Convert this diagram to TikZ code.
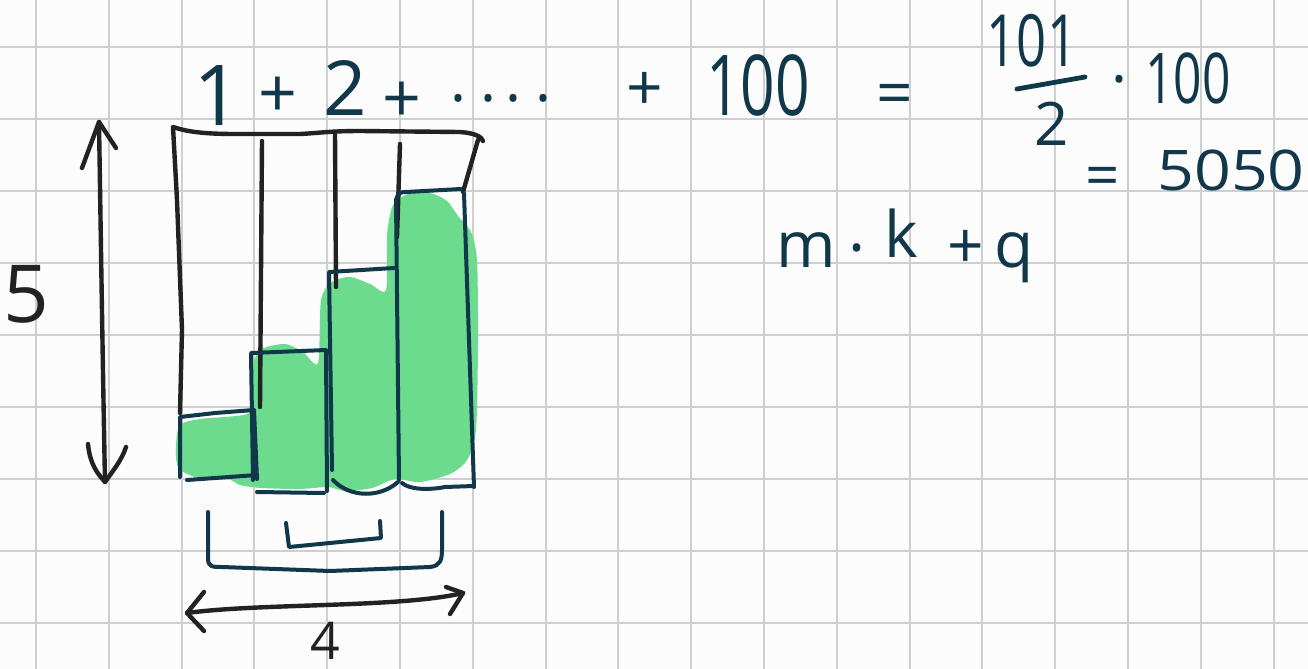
\documentclass[tikz,border=0pt]{standalone}
\usepackage{fontspec}
\setmainfont{Open Sans}
\usepackage{graphicx}
\definecolor{ink}{HTML}{10374A}
\definecolor{pen}{HTML}{222222}
\definecolor{hl}{HTML}{6CDB8E}
\definecolor{gridc}{HTML}{CFCFCF}
\newcommand\fsz[1]{\fontsize{#1}{#1}\selectfont}
\newcommand\hsq[2]{\scalebox{#1}[1]{#2}}
\begin{document}
\begin{tikzpicture}[x=0.5pt,y=-0.5pt,
  gridline/.style={gridc,line width=1pt},
  txt/.style={inner sep=0pt,text=ink,anchor=base},
  pentxt/.style={inner sep=0pt,text=pen,anchor=base},
  penline/.style={pen,line width=2.2pt,line cap=round,line join=round},
  inkline/.style={ink,line width=2pt,line cap=round,line join=round}]
\fill[white!98!gray] (0,0) rectangle (1308,669);
\useasboundingbox (0,0) rectangle (1308,669);
% grid
\foreach \k in {0,...,17} \draw[gridline] ({36+72.8*\k},0) -- ({36+72.8*\k},669);
\foreach \k in {0,...,8} \draw[gridline] (0,{47+72*\k}) -- (1308,{47+72*\k});
% green highlight
\fill[hl] plot[smooth cycle,tension=0.45] coordinates {
 (176,445) (180,425) (200,419) (235,416) (251,410) (253,365) (262,349) (285,344)
 (303,352) (318,363) (321,300) (332,282) (350,277) (370,284) (386,290) (387,235)
 (393,205) (408,194) (430,193) (447,201) (458,216) (471,232) (477,260) (478,340)
 (476,430) (467,460) (450,474) (420,482) (395,479) (372,488) (345,491) (328,487)
 (300,489) (262,488) (240,485) (226,478) (195,477) (178,467)};
% outer black frame
\draw[penline] (180,413) -- (182,330) -- (177,200) -- (173,127)
  .. controls (185,131) and (200,134) .. (235,134) -- (300,134)
  .. controls (320,133) and (330,131) .. (360,131) -- (460,132)
  .. controls (475,133) and (482,137) .. (483,141);
\draw[penline] (478,140) -- (463,192);
\coordinate (s1t) at (262,141); \coordinate (s1b) at (260,407);
\coordinate (s2t) at (335,133); \coordinate (s2b) at (336,287);
\coordinate (s3t) at (400,144); \coordinate (s3b) at (397,237);
\draw[penline] (s1t) -- (s1b);
\draw[penline] (s2t) -- (s2b);
\draw[penline] (s3t) -- (s3b);
% teal step boxes
\draw[inkline] (180,477) -- (180,417) -- (215,413) -- (254,410) -- (257,479);
\draw[inkline] (187,480) -- (257,475);
\draw[inkline] (253,480) -- (251,353) -- (326,350) -- (327,491);
\draw[inkline] (257,492) -- (324,493);
\draw[inkline] (332,470) -- (329,272) -- (394,268);
\draw[inkline] (333,480) .. controls (350,498) and (380,498) .. (398,482);
\draw[inkline] (399,480) -- (396,200) .. controls (398,193) and (400,192) .. (406,192) -- (461,189);
\draw[inkline] (464,193) -- (474,487);
\draw[inkline] (402,483) .. controls (410,490) and (430,490) .. (445,487) -- (474,486);
% vertical double arrow
\coordinate (vtop) at (99,122); \coordinate (vbot) at (105,482);
\draw[penline] (vtop) .. controls (101,250) and (103,380) .. (vbot);
\draw[penline] (82,168) -- (vtop) -- (116,148);
\draw[penline] (88,444) .. controls (90,465) and (98,474) .. (vbot) .. controls (112,472) and (122,460) .. (126,447);
% horizontal double arrow
\coordinate (hl) at (187,613); \coordinate (hr) at (463,593);
\draw[penline] (hl) .. controls (260,603) and (400,608) .. (hr);
\draw[penline] (204,592) -- (hl) -- (204,631);
\draw[penline] (446,587) -- (hr) -- (450,614);
% brackets
\draw[inkline] (208,512) -- (208,558) .. controls (208,567) and (212,567) .. (222,567)
  -- (330,571) -- (430,567) .. controls (440,566) and (442,560) .. (442,550) -- (442,512);
\draw[inkline] (286,523) -- (289,547) -- (381,538) -- (380,521);
% fraction bar
\draw[inkline,line width=2.4pt] (1017,89) -- (1085,77);
% texts
\node[txt,font=\fsz{42}] (t1) at (218,125) {1};
\node[txt,font=\fsz{34}] (tp1) at (278,117) {+};
\node[txt,font=\fsz{38}] (t2) at (345,115) {2};
\node[txt,font=\fsz{34}] (tp2) at (402,122) {+};
\node[txt,font=\fsz{30}] (tdots) at (501,101) {.\hspace{7pt}.\hspace{5pt}.\hspace{7pt}.};
\node[txt,font=\fsz{32}] (tp3) at (645,110) {+};
\node[txt,font=\fsz{42}] (t100) at (758,115) {\hsq{0.72}{100}};
\node[txt,font=\fsz{32}] (teq1) at (895,115) {=};
\node[txt,font=\fsz{36}] (tnum) at (1032,67) {\hsq{0.73}{101}};
\node[txt,font=\fsz{30}] (tden) at (1052,145) {2};
\node[txt,font=\fsz{30}] (tdot) at (1119,100) {·};
\node[txt,font=\fsz{35}] (t100b) at (1188,103) {\hsq{0.71}{100}};
\node[txt,font=\fsz{30}] (teq2) at (1103,196) {=};
\node[txt,font=\fsz{28}] (tres) at (1231,190) {\hsq{1.15}{5050}};
\node[txt,font=\fsz{32}] (tm) at (806,267) {m};
\node[txt,font=\fsz{32}] (tmd) at (857,270) {·};
\node[txt,font=\fsz{32}] (tk) at (901,257) {k};
\node[txt,font=\fsz{32}] (tpq) at (966,268) {+};
\node[txt,font=\fsz{32}] (tq) at (1014,267) {q};
\node[pentxt,font=\fsz{40}] (t5) at (26,322) {5};
\node[inner sep=0pt,text=pen,anchor=north,font=\fsz{26}] (t4) at (325,622) {4};
\end{tikzpicture}
\end{document}
